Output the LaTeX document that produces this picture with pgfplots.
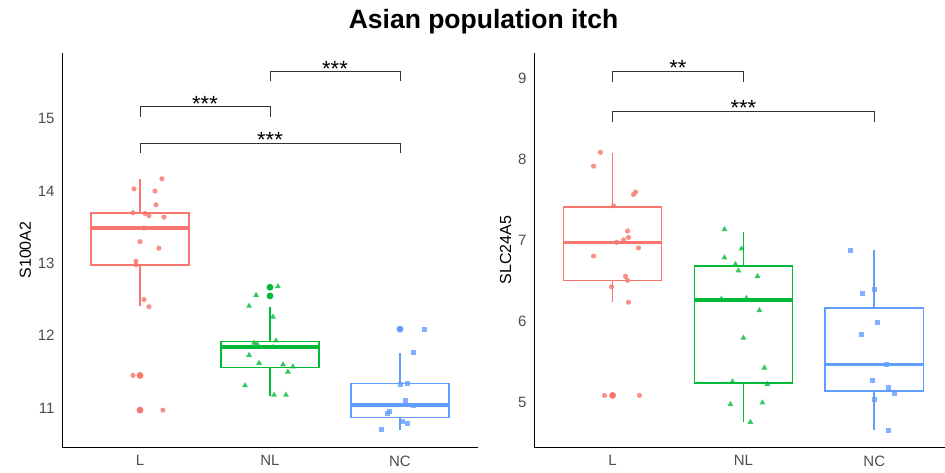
\documentclass[border=0pt]{standalone}
\usepackage{pgfplots}
\pgfplotsset{compat=1.18}
\usepgfplotslibrary{statistics}
\usepackage{fontspec}
\setmainfont{Liberation Sans}
\definecolor{cL}{HTML}{F8766D}
\definecolor{cNL}{HTML}{00BA38}
\definecolor{cNC}{HTML}{619CFF}
\definecolor{tickgray}{HTML}{4D4D4D}
\tikzset{
  br/.style={line width=0.8pt, black!80},
  st/.style={anchor=base, font=\fontsize{22}{24}\selectfont, yshift=-4.6pt},
}
\pgfplotsset{
  panel/.style={
    scale only axis, height=394pt,
    axis x line*=bottom, axis y line*=left,
    axis line style={line width=0.9pt, black, -},
    major tick length=0pt,
    xmin=0.4,
    xtick={1,2,3}, xticklabels={L,NL,NC},
    tick label style={font=\fontsize{15}{17}\selectfont, text=tickgray},
    yticklabel style={xshift=-4pt},
    xticklabel style={yshift=-5pt},
    /pgf/number format/assume math mode=true,
    ylabel style={font=\fontsize{16}{18}\selectfont, yshift=0pt},
    anchor=south west,
  },
  boxplot/draw direction=y,
  boxplot/box extend=0.75,
  boxplot/whisker extend=0,
  bx/.style={line width=1.7pt, solid,
    boxplot/every median/.style={line width=3.6pt},
    boxplot/every whisker/.style={line width=1.7pt}},
  jit/.style={only marks, mark options={solid, fill opacity=0.8, draw opacity=0}},
  outl/.style={only marks, mark=*, mark size=3.4pt, mark options={solid, draw opacity=0}},
}
\begin{document}
\begin{tikzpicture}
\useasboundingbox (0,0) rectangle (945pt,473pt);
\node at (483.5pt,451pt) {\bfseries\fontsize{26.5}{30}\selectfont Asian population itch};
% ---------------- left panel ----------------
\begin{axis}[panel, at={(62pt,26pt)}, width=416pt, xmax=3.6,
  ymin=10.46, ymax=15.91, ytick={11,12,13,14,15}, ylabel={S100A2}]
\addplot+[bx, draw=cL, mark=none, boxplot prepared={draw position=1, lower whisker=12.41, lower quartile=12.98, median=13.49, upper quartile=13.70, upper whisker=14.17}] coordinates {};
\addplot+[bx, draw=cNL, mark=none, boxplot prepared={draw position=2, lower whisker=11.17, lower quartile=11.56, median=11.84, upper quartile=11.92, upper whisker=12.39}] coordinates {};
\addplot+[bx, draw=cNC, mark=none, boxplot prepared={draw position=3, lower whisker=10.70, lower quartile=10.87, median=11.04, upper quartile=11.34, upper whisker=11.76}] coordinates {};
\addplot[outl, cL] coordinates {(1,11.45) (1,10.97)};
\addplot[outl, cNL] coordinates {(2,12.67) (2,12.55)};
\addplot[outl, cNC] coordinates {(3,12.09)};
\addplot[jit, cL, mark=*, mark size=2.6pt] table {
x y
1.169 14.17
0.954 14.03
1.115 14.00
1.123 13.81
0.946 13.70
1.038 13.69
1.069 13.66
1.184 13.64
1.031 13.49
1.000 13.30
1.146 13.21
0.969 13.03
0.969 12.98
1.031 12.50
1.069 12.40
0.946 11.45
1.176 10.97
};
\addplot[jit, cNL, mark=triangle*, mark size=3.4pt] table {
x y
2.061 12.68
1.893 12.56
1.839 12.41
2.023 12.26
2.046 11.93
1.877 11.90
1.900 11.89
2.023 11.84
1.839 11.73
1.916 11.62
2.100 11.60
2.176 11.57
2.138 11.50
1.808 11.31
2.031 11.18
2.123 11.18
};
\addplot[jit, cNC, mark=square*, mark size=2.5pt] table {
x y
3.192 12.09
3.107 11.77
3.054 11.34
3.000 11.33
3.046 11.11
3.107 11.04
2.916 10.95
2.900 10.93
3.023 10.81
3.061 10.78
2.854 10.70
};
\draw[br] (axis cs:2,15.52) -- (axis cs:2,15.655) -- (axis cs:3,15.655) -- (axis cs:3,15.52);
\draw[br] (axis cs:1,15.03) -- (axis cs:1,15.167) -- (axis cs:2,15.167) -- (axis cs:2,15.03);
\draw[br] (axis cs:1,14.53) -- (axis cs:1,14.66) -- (axis cs:3,14.66) -- (axis cs:3,14.53);
\node[st] at (axis cs:2.5,15.655) {***};
\node[st] at (axis cs:1.5,15.167) {***};
\node[st] at (axis cs:2,14.66) {***};
\end{axis}
% ---------------- right panel ----------------
\begin{axis}[panel, at={(534pt,26pt)}, width=411pt, xmax=3.54,
  ymin=4.453, ymax=9.317, ytick={5,6,7,8,9}, ylabel={SLC24A5}]
\addplot+[bx, draw=cL, mark=none, boxplot prepared={draw position=1, lower whisker=6.24, lower quartile=6.51, median=6.98, upper quartile=7.42, upper whisker=8.08}] coordinates {};
\addplot+[bx, draw=cNL, mark=none, boxplot prepared={draw position=2, lower whisker=4.76, lower quartile=5.24, median=6.27, upper quartile=6.69, upper whisker=7.11}] coordinates {};
\addplot+[bx, draw=cNC, mark=none, boxplot prepared={draw position=3, lower whisker=4.66, lower quartile=5.14, median=5.47, upper quartile=6.17, upper whisker=6.88}] coordinates {};
\addplot[outl, cL] coordinates {(1,5.09)};
\addplot[jit, cL, mark=*, mark size=2.6pt] table {
x y
0.908 8.09
0.855 7.92
1.176 7.60
1.160 7.57
1.008 7.43
1.115 7.12
1.122 7.04
1.084 7.01
1.031 6.98
1.198 6.91
0.855 6.81
1.099 6.56
1.115 6.51
0.992 6.43
1.122 6.24
0.939 5.09
1.206 5.09
};
\addplot[jit, cNL, mark=triangle*, mark size=3.4pt] table {
x y
1.855 7.14
1.985 6.90
1.855 6.79
1.939 6.71
1.962 6.63
2.107 6.56
1.832 6.28
2.023 6.29
2.122 6.14
2.000 5.80
2.160 5.43
1.916 5.26
2.183 5.23
1.901 4.98
2.145 5.00
2.053 4.76
};
\addplot[jit, cNC, mark=square*, mark size=2.5pt] table {
x y
2.817 6.88
2.908 6.35
3.000 6.40
3.023 5.99
2.901 5.84
3.092 5.47
2.985 5.27
3.107 5.19
3.153 5.11
3.000 5.04
3.107 4.66
};
\draw[br] (axis cs:1,8.955) -- (axis cs:1,9.095) -- (axis cs:2,9.095) -- (axis cs:2,8.955);
\draw[br] (axis cs:1,8.47) -- (axis cs:1,8.60) -- (axis cs:3,8.60) -- (axis cs:3,8.47);
\node[st] at (axis cs:1.5,9.095) {**};
\node[st] at (axis cs:2,8.60) {***};
\end{axis}
\end{tikzpicture}
\end{document}
